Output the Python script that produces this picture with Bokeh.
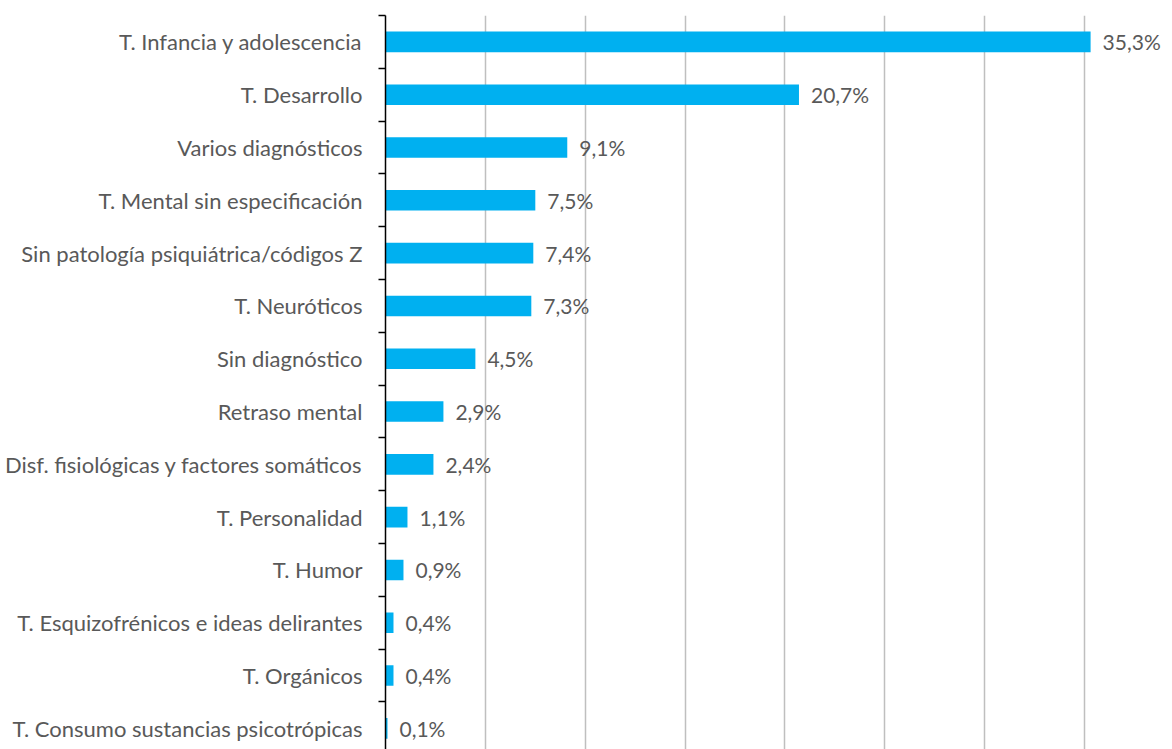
from bokeh.plotting import figure
from bokeh.models import ColumnDataSource, FixedTicker, SingleIntervalTicker, Range1d
from bokeh.core.properties import value
from bokeh.embed import file_html
from bokeh.resources import INLINE

categories = [
    "T. Infancia y adolescencia",
    "T. Desarrollo",
    "Varios diagnósticos",
    "T. Mental sin especificación",
    "Sin patología psiquiátrica/códigos Z",
    "T. Neuróticos",
    "Sin diagnóstico",
    "Retraso mental",
    "Disf. fisiológicas y factores somáticos",
    "T. Personalidad",
    "T. Humor",
    "T. Esquizofrénicos e ideas delirantes",
    "T. Orgánicos",
    "T. Consumo sustancias psicotrópicas",
]
values = [35.3, 20.7, 9.1, 7.5, 7.4, 7.3, 4.5, 2.9, 2.4, 1.1, 0.9, 0.4, 0.4, 0.1]
value_labels = ["35,3%", "20,7%", "9,1%", "7,5%", "7,4%", "7,3%", "4,5%", "2,9%",
                "2,4%", "1,1%", "0,9%", "0,4%", "0,4%", "0,1%"]

n = len(categories)
ypos = [n - i - 0.5 for i in range(n)]

FONT = "Lato"
TXT = "#595959"

src = ColumnDataSource(dict(y=ypos, v=values, lab=value_labels, cat=categories))

p = figure(width=1172, height=749, output_backend="svg", toolbar_location=None,
           x_range=Range1d(0, 39.4), y_range=Range1d(0.1, n),
           min_border_left=385, min_border_right=0, min_border_top=15, min_border_bottom=0)
p.outline_line_color = None
p.background_fill_color = "white"

p.hbar(y="y", right="v", left=0, height=0.39, source=src, color="#00B0F0", line_color=None)
p.text(x="v", y="y", text="lab", source=src, x_offset=12, text_baseline="middle",
       text_align="left", text_font=value(FONT), text_font_size="21px", text_color=TXT)

p.xaxis.visible = False
p.xgrid.ticker = SingleIntervalTicker(interval=5)
p.xgrid.grid_line_color = "#BFBFBF"
p.xgrid.grid_line_width = 1.5
p.ygrid.grid_line_color = None

yax = p.yaxis[0]
yax.ticker = FixedTicker(ticks=ypos, minor_ticks=list(range(0, n + 1)))
yax.major_label_overrides = {y: c for y, c in zip(ypos, categories)}
yax.major_tick_line_color = None
yax.major_tick_out = 0
yax.major_tick_in = 0
yax.minor_tick_out = 7
yax.minor_tick_in = 0
yax.minor_tick_line_color = "black"
yax.minor_tick_line_width = 1.5
yax.axis_line_color = "black"
yax.axis_line_width = 1.5
yax.major_label_standoff = 16
yax.major_label_text_font = FONT
yax.major_label_text_font_size = "22px"
yax.major_label_text_color = TXT

open("out.html", "w").write(file_html(p, INLINE))
